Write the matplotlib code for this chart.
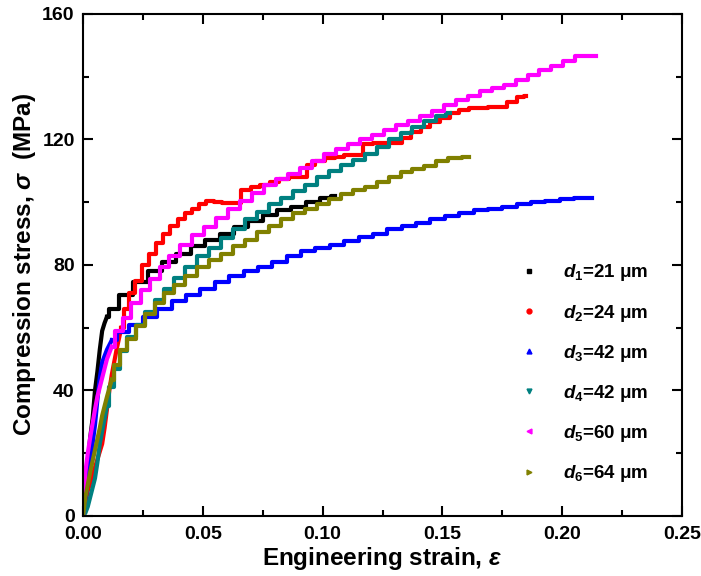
import matplotlib
matplotlib.use("Agg")
import matplotlib.pyplot as plt
from matplotlib.lines import Line2D
from matplotlib.ticker import MultipleLocator

plt.rcParams['font.family'] = 'Liberation Sans'
plt.rcParams['font.weight'] = 'bold'
plt.rcParams['axes.labelweight'] = 'bold'
plt.rcParams['mathtext.fontset'] = 'custom'
plt.rcParams['mathtext.rm'] = 'Liberation Sans:bold'
plt.rcParams['mathtext.it'] = 'Liberation Sans:bold:italic'
plt.rcParams['mathtext.bf'] = 'Liberation Sans:bold'

# d1 = 21 um
strain_d1 = [0, 0.001, 0.002, 0.003, 0.004, 0.005, 0.006, 0.007, 0.008, 0.009, 0.010,
             0.012, 0.018, 0.024, 0.030, 0.036, 0.042, 0.048, 0.054, 0.060, 0.066,
             0.072, 0.078, 0.084, 0.090, 0.096, 0.102, 0.105]
stress_d1 = [0, 9, 17, 25, 31, 40, 46, 53, 59, 61.5, 63.5,
             66, 70.5, 74.5, 78, 81, 83.5, 86, 88, 90, 92,
             94, 96, 97.5, 98.5, 100, 101.5, 102]

# d2 = 24 um
strain_d2 = [0, 0.002, 0.004, 0.006, 0.008, 0.009, 0.010, 0.011, 0.012, 0.014, 0.016,
             0.018, 0.020, 0.023, 0.026, 0.029, 0.032, 0.035, 0.038, 0.041, 0.044,
             0.047, 0.050, 0.053, 0.056, 0.060, 0.064, 0.068, 0.072, 0.076, 0.080,
             0.084, 0.088, 0.092, 0.095, 0.099, 0.103, 0.107, 0.111, 0.115, 0.119,
             0.123, 0.127, 0.131, 0.135, 0.139, 0.143, 0.147, 0.151, 0.155, 0.159,
             0.163, 0.167, 0.171, 0.175, 0.179, 0.183, 0.185]
stress_d2 = [0, 8, 13, 18, 23, 28, 34, 40, 45, 53, 60,
             66, 71, 75, 80, 83.5, 87, 90, 92.5, 94.5, 96.5,
             98, 99.5, 100.5, 100, 99.8, 99.8, 104, 105, 105.5, 106.5,
             107.5, 108, 108, 112, 113, 114, 114.5, 115, 115, 118.5,
             119, 119, 119, 120.5, 122.5, 124, 125.5, 127, 128.5, 129.5,
             130, 130, 130.5, 130.5, 132, 133.5, 134]

# d3 = 42 um
strain_d3 = [0, 0.001, 0.002, 0.003, 0.004, 0.005, 0.006, 0.007, 0.008, 0.010, 0.012,
             0.016, 0.022, 0.028, 0.034, 0.040, 0.046, 0.052, 0.058, 0.064, 0.070,
             0.076, 0.082, 0.088, 0.094, 0.100, 0.106, 0.112, 0.118, 0.124, 0.130,
             0.136, 0.142, 0.148, 0.154, 0.160, 0.166, 0.172, 0.178, 0.184, 0.190,
             0.196, 0.202, 0.208, 0.2125]
stress_d3 = [0, 5, 11, 17, 23, 29, 37, 44, 49, 53, 56,
             58.5, 61, 63.5, 66, 68.5, 70.5, 72.5, 74.5, 76.5, 78,
             79.5, 81, 83, 84.5, 85.5, 86.5, 87.5, 89, 90, 91.5,
             92.5, 93.5, 94.5, 95.5, 96.5, 97.5, 98, 98.5, 99.5, 100,
             100.5, 101, 101.5, 101.5]

# d4 = 42 um
strain_d4 = [0, 0.001, 0.002, 0.003, 0.004, 0.005, 0.006, 0.007, 0.008, 0.009, 0.010,
             0.012, 0.014, 0.017, 0.020, 0.024, 0.028, 0.032, 0.036, 0.040, 0.045,
             0.050, 0.055, 0.060, 0.065, 0.070, 0.075, 0.080, 0.085, 0.090, 0.095,
             0.100, 0.105, 0.110, 0.115, 0.120, 0.125, 0.130, 0.135, 0.140, 0.145,
             0.150, 0.153]
stress_d4 = [0, 1, 3, 6, 9, 12, 17, 23, 27, 31, 35,
             41, 47, 52.5, 57, 61, 65, 69, 72.5, 76, 79.5,
             83, 85.5, 88.5, 91.5, 94.5, 97, 99.5, 101.5, 103.5, 105.5,
             108, 110, 112, 113.5, 115.5, 117.5, 120, 122, 124, 126,
             127.5, 128.5]

# d5 = 60 um
strain_d5 = [0, 0.001, 0.002, 0.003, 0.004, 0.005, 0.006, 0.007, 0.008, 0.010, 0.012,
             0.015, 0.018, 0.022, 0.026, 0.030, 0.034, 0.038, 0.043, 0.048, 0.053,
             0.058, 0.063, 0.068, 0.073, 0.078, 0.083, 0.088, 0.093, 0.098, 0.103,
             0.108, 0.113, 0.118, 0.123, 0.128, 0.133, 0.138, 0.143, 0.148, 0.153,
             0.158, 0.163, 0.168, 0.173, 0.178, 0.183, 0.188, 0.193, 0.198, 0.203,
             0.208, 0.214]
stress_d5 = [0, 14, 20, 25, 29.5, 34, 38, 41, 44, 50, 54,
             59, 63, 68, 72, 75.5, 79.5, 83, 86.5, 89.5, 92,
             95, 98, 100.5, 103, 105.5, 107.5, 109, 111, 113, 115.5,
             117, 118.5, 120, 121.5, 123, 124.5, 126, 127.5, 129, 131,
             132.5, 134, 135.5, 136.5, 137.5, 139, 140.5, 142, 143.5, 145,
             146.5, 146.5]

# d6 = 64 um
strain_d6 = [0, 0.001, 0.002, 0.003, 0.004, 0.005, 0.006, 0.007, 0.008, 0.010, 0.012,
             0.014, 0.017, 0.020, 0.024, 0.028, 0.032, 0.036, 0.040, 0.045, 0.050,
             0.055, 0.060, 0.065, 0.070, 0.075, 0.080, 0.085, 0.090, 0.095, 0.100,
             0.105, 0.110, 0.115, 0.120, 0.125, 0.130, 0.135, 0.140, 0.145, 0.150,
             0.155, 0.161]
stress_d6 = [0, 6, 10, 14, 17.5, 21, 24.5, 28, 32, 38, 43.5,
             48, 53, 56.5, 60.5, 64.5, 68, 71, 73.5, 76.5, 79.5,
             81.5, 83.5, 86, 88, 90.5, 92.5, 94.5, 96.5, 98, 99.5,
             101, 102.5, 104, 105, 106.5, 108, 109.5, 110.5, 111.5, 113,
             114, 114.5]

labels = [r'$d_1$=21 μm', r'$d_2$=24 μm', r'$d_3$=42 μm',
          r'$d_4$=42 μm', r'$d_5$=60 μm', r'$d_6$=64 μm']
colors = ['black', '#FF0000', '#0000FF', '#008080', '#FF00FF', '#808000']
markers = ['s', 'o', '^', 'v', '<', '>']

strains = [strain_d1, strain_d2, strain_d3, strain_d4, strain_d5, strain_d6]
stresses = [stress_d1, stress_d2, stress_d3, stress_d4, stress_d5, stress_d6]

fig = plt.figure(figsize=(7.01, 5.76), dpi=100)
ax = fig.add_axes([0.1184, 0.1042, 0.8546, 0.8715])

# elastisk del som vanlig linje, plastisk del som trapp (serrations)
for x, y, c in zip(strains, stresses, colors):
    k = 10
    ax.plot(x[:k + 1], y[:k + 1], color=c, lw=3)
    ax.plot(x[k:], y[k:], color=c, lw=3, drawstyle='steps-mid')

ax.set_xlim(0, 0.25)
ax.set_ylim(0, 160)
ax.xaxis.set_major_locator(MultipleLocator(0.05))
ax.xaxis.set_minor_locator(MultipleLocator(0.025))
ax.yaxis.set_major_locator(MultipleLocator(40))
ax.yaxis.set_minor_locator(MultipleLocator(20))
ax.xaxis.set_major_formatter(plt.FuncFormatter(lambda v, p: f'{v:.2f}'))

ax.tick_params(which='both', direction='in', top=True, right=True, width=1.5,
               labelsize=14)
ax.tick_params(which='major', length=7, pad=6)
ax.tick_params(axis='x', which='major', pad=7.5)
ax.tick_params(which='minor', length=4)
for lab in ax.get_xticklabels() + ax.get_yticklabels():
    lab.set_fontweight('bold')
for s in ax.spines.values():
    s.set_linewidth(1.5)

ax.set_xlabel(r'Engineering strain, $\varepsilon$', fontsize=17.5, labelpad=1)
ax.set_ylabel(r'Compression stress, $\sigma$  (MPa)', fontsize=17.5, labelpad=3)

handles = [Line2D([], [], color=c, marker=m, ls='none', markersize=3.5)
           for c, m in zip(colors, markers)]
ax.legend(handles, labels, loc='upper left', bbox_to_anchor=(0.716, 0.52),
          frameon=False, fontsize=13.5, handlelength=1.0, handletextpad=1.3,
          labelspacing=1.02, borderaxespad=0)

fig.savefig('out.png', dpi=100)
